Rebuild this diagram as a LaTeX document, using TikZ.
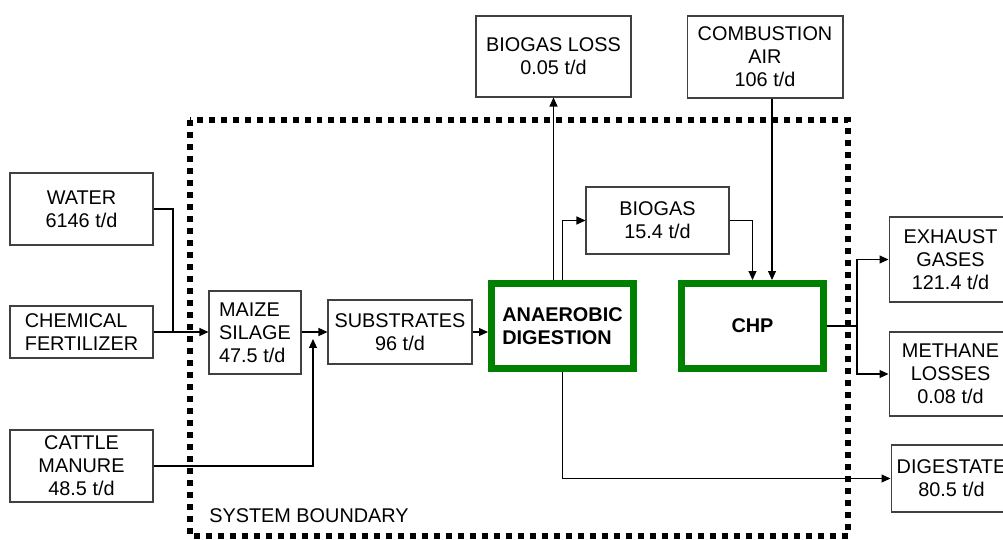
\documentclass[tikz,border=0pt]{standalone}
\usepackage{fontspec}
\setmainfont{Liberation Sans}
\usepackage{tikz}
\usepackage{xcolor}
\usetikzlibrary{arrows.meta}
\definecolor{procgreen}{RGB}{0,128,0}
\newcommand{\boxfont}{\fontsize{11.3}{13}\selectfont}
\tikzset{
  flowbox/.style={draw=black!75, line width=0.6pt, align=center, inner sep=1pt, font=\boxfont},
  unitbox/.style={draw=procgreen, line width=0.14cm, align=left, inner sep=1pt, font=\boxfont\bfseries,
    minimum width=2.84cm, minimum height=1.70cm},
  flow/.style={line width=0.6pt, -{Triangle[length=0.18cm,width=0.16cm]}},
  boundary/.style={line width=0.12cm, dash pattern=on 0.12cm off 0.12cm}
}

\begin{document}
\begin{tikzpicture}[x=0.02cm,y=-0.02cm]
\useasboundingbox (0,0) rectangle (1003,540);
\draw[boundary] (190,120) rectangle (848,536);
\node[anchor=base west, inner sep=0pt, font=\boxfont] (sysb) at (209,522) {SYSTEM BOUNDARY};

\node[flowbox, minimum width=2.86cm, minimum height=1.44cm] (water) at (81.5,209) {WATER\\6146 t/d};
\node[flowbox, align=left, minimum width=2.86cm, minimum height=1.04cm] (fert) at (81.5,332) {CHEMICAL\\FERTILIZER};
\node[flowbox, minimum width=2.86cm, minimum height=1.44cm] (cattle) at (81.5,466) {CATTLE\\MANURE\\48.5 t/d};
\node[flowbox, align=left, minimum width=1.84cm, minimum height=1.66cm] (maize) at (255,332.5) {MAIZE\\SILAGE\\47.5 t/d};
\node[flowbox, minimum width=2.88cm, minimum height=1.28cm] (subs) at (400,332) {SUBSTRATES\\96 t/d};
\node[unitbox] (ad) at (562.5,326) {ANAEROBIC\\DIGESTION};
\node[unitbox, align=center] (chp) at (752.5,326) {CHP};
\node[flowbox, minimum width=3.1cm, minimum height=1.62cm] (loss) at (553.5,56.5) {BIOGAS LOSS\\0.05 t/d};
\node[flowbox, minimum width=3.12cm, minimum height=1.64cm] (air) at (765,57) {COMBUSTION\\AIR\\106 t/d};
\node[flowbox, minimum width=2.86cm, minimum height=1.34cm] (biogas) at (657.5,220.5) {BIOGAS\\15.4 t/d};
\node[flowbox, minimum width=2.46cm, minimum height=1.7cm] (exh) at (950.5,259.5) {EXHAUST\\GASES\\121.4 t/d};
\node[flowbox, minimum width=2.46cm, minimum height=1.68cm] (meth) at (950.5,374) {METHANE\\LOSSES\\0.08 t/d};
\node[flowbox, minimum width=2.42cm, minimum height=1.34cm] (dig) at (951.5,478.5) {DIGESTATE\\80.5 t/d};

\coordinate (wjoin) at (173,332);
\coordinate (cjoin) at (313,339);
\coordinate (split) at (857,326);
\draw[line width=0.6pt] (water.east) -| (wjoin);
\draw[flow] (fert.east) -- (maize.west |- fert.east);
\draw[flow] (maize.east |- fert.east) -- (subs.west |- fert.east);
\draw[flow] (cattle.east) -| (cjoin);
\draw[flow] (subs.east) -- (ad.west |- subs.east);
\draw[flow] (loss.south |- ad.north) -- (loss.south);
\draw[flow] (ad.north) |- (biogas.west);
\draw[flow] (biogas.east) -| (chp.north);
\draw[flow] ([xshift=0.14cm]air.south) -- ([xshift=0.14cm]air.south |- chp.north);
\draw[line width=0.6pt] (chp.east) -- (split);
\draw[flow] (split) |- (exh.west);
\draw[flow] (split) |- (meth.west);
\draw[flow] (ad.south) |- (dig.west);
\end{tikzpicture}
\end{document}
